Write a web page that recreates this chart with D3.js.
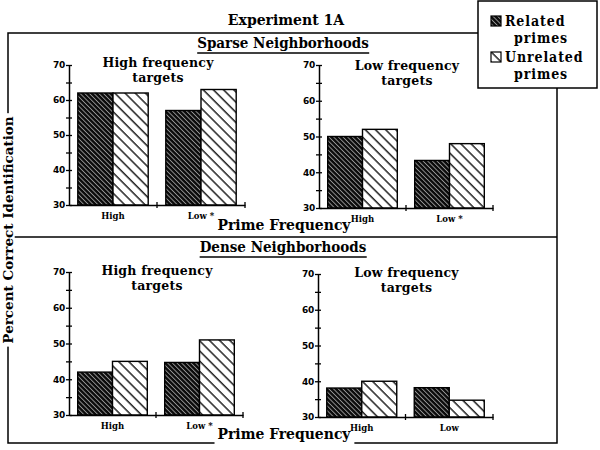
<!DOCTYPE html>
<html>
<head>
<meta charset="utf-8">
<script src="https://cdn.jsdelivr.net/npm/d3@7"></script>
<style>
  html, body { margin: 0; padding: 0; background: #fff; }
  svg { display: block; }
  .bold { font-family: "DejaVu Serif", serif; font-weight: bold; fill: #000; }
</style>
</head>
<body>
<svg id="chart" width="600" height="450"></svg>
<script>
// ---------- data ----------
const categories = ["High", "Low"];
const seriesNames = ["Related primes", "Unrelated primes"];
const yTickValues = [30, 40, 50, 60, 70];
const yMinorValues = [35, 45, 55, 65];

const sparseHighRelated   = [62, 57];
const sparseHighUnrelated = [62, 63];
const sparseLowRelated    = [50, 43.3];
const sparseLowUnrelated  = [52, 48];
const denseHighRelated    = [42, 44.7];
const denseHighUnrelated  = [45, 51];
const denseLowRelated     = [38.1, 38.2];
const denseLowUnrelated   = [40, 34.7];

const starredLabels   = ["High", "Low *"];
const unstarredLabels = ["High", "Low"];

// ---------- setup ----------
const svg = d3.select("#chart");
const defs = svg.append("defs");

// related: dark with fine white diagonal lines
const p1 = defs.append("pattern").attr("id", "relPat").attr("patternUnits", "userSpaceOnUse")
  .attr("width", 3.3).attr("height", 10).attr("patternTransform", "rotate(-45)");
p1.append("rect").attr("width", 3.3).attr("height", 10).attr("fill", "#0a0a0a");
p1.append("line").attr("x1", 0.5).attr("x2", 0.5).attr("y1", 0).attr("y2", 10)
  .attr("stroke", "#d8d8d8").attr("stroke-width", 0.7);

// unrelated: white with black diagonal lines
const p2 = defs.append("pattern").attr("id", "unrPat").attr("patternUnits", "userSpaceOnUse")
  .attr("width", 7.2).attr("height", 10).attr("patternTransform", "rotate(-45)");
p2.append("rect").attr("width", 7.2).attr("height", 10).attr("fill", "#fff");
p2.append("line").attr("x1", 1).attr("x2", 1).attr("y1", 0).attr("y2", 10)
  .attr("stroke", "#000").attr("stroke-width", 1.3);

const fills = ["url(#relPat)", "url(#unrPat)"];

// ---------- frame ----------
const frame = svg.append("g").attr("stroke", "#000").attr("fill", "none").attr("stroke-width", 1.5);
frame.append("path").attr("d", "M478,33 H8 V443 H557 V88");
frame.append("line").attr("x1", 8).attr("x2", 557).attr("y1", 237).attr("y2", 237);
// legend box
frame.append("rect").attr("x", 478).attr("y", 1).attr("width", 119).attr("height", 87);

// title
svg.append("text").attr("class", "bold").attr("x", 286).attr("y", 25)
  .attr("text-anchor", "middle").style("font-size", "14px").text("Experiment 1A");

// section headers
function sectionHeader(txt, y) {
  const t = svg.append("text").attr("class", "bold").attr("x", 283).attr("y", y)
    .attr("text-anchor", "middle").style("font-size", "15px").style("font-stretch", "condensed").text(txt);
  const bb = t.node().getBBox();
  svg.append("line").attr("x1", bb.x).attr("x2", bb.x + bb.width).attr("y1", y + 5).attr("y2", y + 5)
    .attr("stroke", "#000").attr("stroke-width", 1.5);
}
sectionHeader("Sparse Neighborhoods", 48);
sectionHeader("Dense Neighborhoods", 252);

// text with white knock-out band behind it (breaks frame lines)
function knockoutText(parent, x, y, txt, size, extra, band) {
  const g = parent.append("g");
  const bg = g.append("rect").attr("fill", "#fff");
  const t = g.append("text").attr("class", "bold").attr("x", x).attr("y", y).attr("text-anchor", "middle")
    .style("font-size", size + "px").style("font-stretch", "condensed").text(txt);
  if (extra) extra(t);
  const bb = t.node().getBBox();
  if (band) {
    bg.attr("x", bb.x - 3).attr("y", y + band[0]).attr("width", bb.width + 6).attr("height", band[1] - band[0]);
  } else {
    bg.attr("x", bb.x - 3).attr("y", bb.y + 1).attr("width", bb.width + 6).attr("height", bb.height - 2);
  }
  return g;
}

// vertical y label
const yl = svg.append("g").attr("transform", "translate(8,230) rotate(-90)");
knockoutText(yl, 0, 0, "Percent Correct Identification", 13.5, t => t.attr("dy", "0.35em").style("font-stretch", "normal"));

// legend
const legend = svg.append("g");
const legendRows = [{ y: 16, lines: ["Related", "primes"] }, { y: 52, lines: ["Unrelated", "primes"] }];
legendRows.forEach((r, i) => {
  legend.append("rect").attr("x", 491).attr("y", r.y).attr("width", 10).attr("height", 10)
    .attr("fill", fills[i]).attr("stroke", "#000").attr("stroke-width", 1.2);
  legend.append("text").attr("class", "bold").attr("x", 505).attr("y", r.y + 10).style("font-size", "14px")
    .style("font-stretch", "condensed").style("letter-spacing", "0.9px").text(r.lines[0]);
  legend.append("text").attr("class", "bold").attr("x", 514).attr("y", r.y + 26.5).style("font-size", "14px")
    .style("font-stretch", "condensed").style("letter-spacing", "0.9px").text(r.lines[1]);
});

// ---------- panels ----------
const panels = [
  { x0: 69,  x1: 245, yTop: 65,  yBot: 205, title: ["High frequency", "targets"], ty: 67,  rel: sparseHighRelated, unr: sparseHighUnrelated, labels: starredLabels },
  { x0: 319, x1: 493, yTop: 65,  yBot: 208, title: ["Low frequency", "targets"],  ty: 70,  rel: sparseLowRelated,  unr: sparseLowUnrelated,  labels: starredLabels },
  { x0: 69,  x1: 243, yTop: 272, yBot: 415, title: ["High frequency", "targets"], ty: 275, rel: denseHighRelated,  unr: denseHighUnrelated,  labels: starredLabels },
  { x0: 318, x1: 493, yTop: 274, yBot: 417, title: ["Low frequency", "targets"],  ty: 277, rel: denseLowRelated,   unr: denseLowUnrelated,   labels: unstarredLabels }
];

panels.forEach(p => {
  const g = svg.append("g");
  const x = d3.scaleBand().domain(categories).range([p.x0, p.x1]).paddingInner(0.2).paddingOuter(0.1);
  const xs = d3.scaleBand().domain(seriesNames).range([0, x.bandwidth()]);
  const y = d3.scaleLinear().domain([30, 70]).range([p.yBot, p.yTop]);

  // bars
  categories.forEach((c, ci) => {
    [p.rel[ci], p.unr[ci]].forEach((v, si) => {
      g.append("rect")
        .attr("x", x(c) + xs(seriesNames[si]))
        .attr("y", y(v))
        .attr("width", xs.bandwidth())
        .attr("height", y(30) - y(v))
        .attr("fill", fills[si])
        .attr("stroke", "#000").attr("stroke-width", 1.4);
    });
  });

  // y axis
  const yAxis = d3.axisLeft(y).tickValues(yTickValues.concat(yMinorValues)).tickSizeOuter(0).tickSizeInner(3)
    .tickFormat(d => (d % 10 === 0 ? d : ""));
  const ya = g.append("g").attr("transform", `translate(${p.x0},0)`).call(yAxis);
  ya.select(".domain").attr("stroke-width", 1.5);
  ya.selectAll(".tick line").attr("x1", 3).attr("x2", -3).attr("stroke-width", 1.3);
  ya.selectAll(".tick text").attr("x", -4).style("font-family", "'DejaVu Sans', sans-serif")
    .style("font-weight", "bold").style("font-size", "9px").style("letter-spacing", "-0.3px");

  // x axis
  const xAxis = d3.axisBottom(x).tickSize(0).tickFormat((d, i) => p.labels[i]);
  const xa = g.append("g").attr("transform", `translate(0,${p.yBot})`).call(xAxis);
  xa.select(".domain").attr("stroke-width", 1.5);
  xa.selectAll(".tick text").attr("y", 8).style("font-family", "'DejaVu Serif', serif")
    .style("font-weight", "bold").style("font-size", "8.5px");
  // boundary ticks
  const bounds = [x(categories[1]) - x.step() * x.paddingInner() / 2, p.x1];
  bounds.forEach(bx => {
    xa.append("line").attr("x1", bx).attr("x2", bx).attr("y1", -3).attr("y2", 3)
      .attr("stroke", "#000").attr("stroke-width", 1.3);
  });

  // panel title
  const cx = (p.x0 + p.x1) / 2 + 1;
  p.title.forEach((line, li) => {
    g.append("text").attr("class", "bold").attr("x", cx).attr("y", p.ty + li * 14.5).attr("text-anchor", "middle")
      .style("font-size", "12.5px").style("letter-spacing", "0.2px").text(line);
  });
});

// x-axis titles "Prime Frequency"
svg.append("text").attr("class", "bold").attr("x", 284).attr("y", 230).attr("text-anchor", "middle")
  .style("font-size", "15.5px").style("font-stretch", "condensed").text("Prime Frequency");
knockoutText(svg, 284, 439, "Prime Frequency", 15.5, null, [-3, 6]);
</script>
</body>
</html>
